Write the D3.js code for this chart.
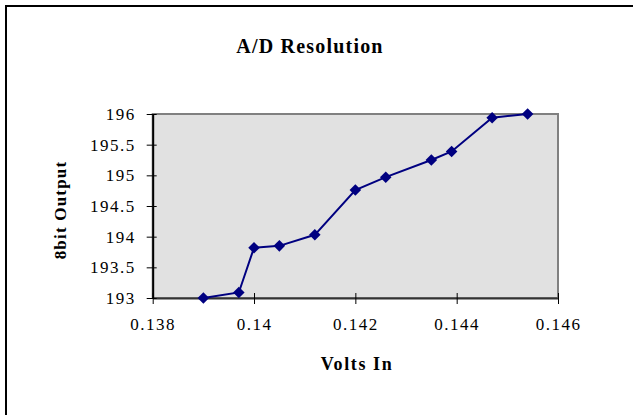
<!DOCTYPE html>
<html>
<head>
<meta charset="utf-8">
<script src="https://cdn.jsdelivr.net/npm/d3@7"></script>
<style>
	body { margin: 0; background: #fff; }
	svg { display: block; }
	text { font-family: "Liberation Serif", "Times New Roman", serif; }
</style>
</head>
<body>
<div id="chart"></div>
<script>
"use strict";

// values
const voltsIn = [0.139, 0.1397, 0.14, 0.1405, 0.1412, 0.142, 0.1426, 0.1435, 0.1439, 0.1447, 0.1454];
const output8bit = [193, 193.09, 193.82, 193.85, 194.03, 194.76, 194.97, 195.25, 195.39, 195.94, 196];
const xTicks = [0.138, 0.14, 0.142, 0.144, 0.146];
const yTicks = [193, 193.5, 194, 194.5, 195, 195.5, 196];

const W = 633, H = 415;
const PLOT = { left: 152.7, right: 558, top: 114, bottom: 298 };

let svg = d3.select("#chart")
	.append("svg")
	.attr("width", W)
	.attr("height", H);

// outer chart frame (only top + left visible in the crop)
svg.append("path")
	.attr("d", `M6,${H}V6H${W}`)
	.attr("fill", "none")
	.attr("stroke", "#000")
	.attr("stroke-width", 2);

const x = d3.scaleLinear().domain([0.138, 0.146]).range([PLOT.left, PLOT.right]);
const y = d3.scaleLinear().domain([193, 196]).range([PLOT.bottom, PLOT.top]);

// plot area
svg.append("rect")
	.attr("x", x(0.138))
	.attr("y", y(196))
	.attr("width", x(0.146) - x(0.138))
	.attr("height", y(193) - y(196))
	.attr("fill", "#e1e1e1")
	.attr("stroke", "#808080")
	.attr("stroke-width", 2);

const fmt = d => String(+d.toFixed(3));

// axes
let gx = svg.append("g")
	.attr("transform", `translate(0,${y(193)})`)
	.call(d3.axisBottom(x).tickValues(xTicks).tickSizeInner(6).tickSizeOuter(0).tickPadding(14)
		.tickFormat(fmt));
gx.select(".domain").attr("stroke", "#333").attr("stroke-width", 2);
gx.selectAll(".tick line").attr("y1", -5).attr("stroke", "#000");

let gy = svg.append("g")
	.attr("transform", `translate(${x(0.138)},0)`)
	.call(d3.axisLeft(y).tickValues(yTicks).tickSizeInner(6).tickSizeOuter(0).tickPadding(11)
		.tickFormat(fmt));
gy.select(".domain").attr("stroke", "#000").attr("stroke-width", 2);
gy.selectAll(".tick line").attr("x1", 4).attr("stroke", "#000");

svg.selectAll(".tick text")
	.style("font-family", "'Liberation Serif', serif")
	.style("font-size", "17px")
	.attr("letter-spacing", 1.5)
	.attr("fill", "#000");

// series
const line = d3.line()
	.x((d, i) => x(voltsIn[i]))
	.y(d => y(d));

svg.append("path")
	.datum(output8bit)
	.attr("d", line)
	.attr("fill", "none")
	.attr("stroke", "#000080")
	.attr("stroke-width", 2);

const diamond = d3.symbol().type(d3.symbolDiamond2).size(85);
svg.selectAll(".pt")
	.data(output8bit)
	.enter().append("path")
	.attr("class", "pt")
	.attr("transform", (d, i) => `translate(${x(voltsIn[i])},${y(d)})`)
	.attr("d", diamond)
	.attr("fill", "#000080");

// titles
svg.append("text")
	.attr("x", 310)
	.attr("y", 53)
	.attr("text-anchor", "middle")
	.attr("font-weight", "bold")
	.attr("font-size", 20)
	.attr("letter-spacing", 1.2)
	.text("A/D Resolution");

svg.append("text")
	.attr("x", 357)
	.attr("y", 370)
	.attr("text-anchor", "middle")
	.attr("font-weight", "bold")
	.attr("font-size", 18)
	.attr("letter-spacing", 1.6)
	.text("Volts In");

svg.append("text")
	.attr("transform", "translate(66,210) rotate(-90)")
	.attr("text-anchor", "middle")
	.attr("font-weight", "bold")
	.attr("font-size", 17)
	.attr("letter-spacing", 1.2)
	.text("8bit Output");
</script>
</body>
</html>
